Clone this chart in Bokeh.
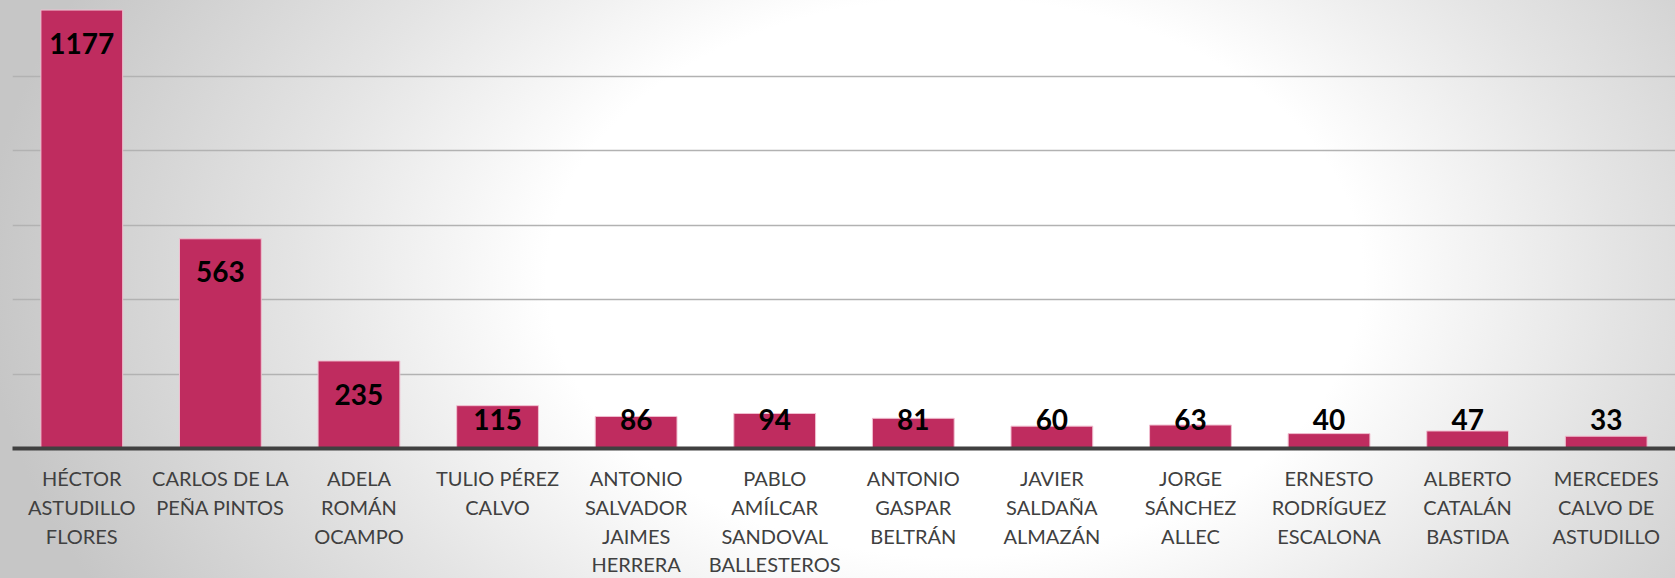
from bokeh.plotting import figure
from bokeh.models import (ColumnDataSource, FactorRange, FixedTicker, CategoricalAxis,
                          CustomJSTickFormatter)
from bokeh.core.properties import value
from bokeh.embed import file_html
from bokeh.resources import INLINE
import numpy as np

candidates = [
    "HÉCTOR ASTUDILLO FLORES",
    "CARLOS DE LA PEÑA PINTOS",
    "ADELA ROMÁN OCAMPO",
    "TULIO PÉREZ CALVO",
    "ANTONIO SALVADOR JAIMES HERRERA",
    "PABLO AMÍLCAR SANDOVAL BALLESTEROS",
    "ANTONIO GASPAR BELTRÁN",
    "JAVIER SALDAÑA ALMAZÁN",
    "JORGE SÁNCHEZ ALLEC",
    "ERNESTO RODRÍGUEZ ESCALONA",
    "ALBERTO CATALÁN BASTIDA",
    "MERCEDES CALVO DE ASTUDILLO",
]
label_lines = [
    ["HÉCTOR", "ASTUDILLO", "FLORES"],
    ["CARLOS DE LA", "PEÑA PINTOS"],
    ["ADELA", "ROMÁN", "OCAMPO"],
    ["TULIO PÉREZ", "CALVO"],
    ["ANTONIO", "SALVADOR", "JAIMES", "HERRERA"],
    ["PABLO", "AMÍLCAR", "SANDOVAL", "BALLESTEROS"],
    ["ANTONIO", "GASPAR", "BELTRÁN"],
    ["JAVIER", "SALDAÑA", "ALMAZÁN"],
    ["JORGE", "SÁNCHEZ", "ALLEC"],
    ["ERNESTO", "RODRÍGUEZ", "ESCALONA"],
    ["ALBERTO", "CATALÁN", "BASTIDA"],
    ["MERCEDES", "CALVO DE", "ASTUDILLO"],
]
votes = [1177, 563, 235, 115, 86, 94, 81, 60, 63, 40, 47, 33]
grid_ticks = [0, 200, 400, 600, 800, 1000, 1200]

vals = np.array(votes, dtype=float)
label_y = np.maximum(vals - 89, 78)

src = ColumnDataSource(dict(
    cat=candidates,
    v=votes,
    txt=[str(v) for v in votes],
    ly=label_y,
))

p = figure(
    x_range=FactorRange(factors=candidates, range_padding=0),
    y_range=(0, 1200),
    width=1675, height=578,
    output_backend="svg", toolbar_location=None,
    y_axis_location=None,
    min_border_left=12, min_border_right=0, min_border_top=1, min_border_bottom=0,
)
p.styles = {
    "background": "radial-gradient(ellipse 58% 115% at 57% 48%, #ffffff 0%, #ffffff 42%, #e4e4e4 68%, #c6c6c6 100%)"
}
p.border_fill_color = None
p.background_fill_color = None
p.outline_line_color = None

p.vbar(x="cat", top="v", width=0.59, source=src,
       fill_color="#BF2C5F", line_color="#f0bfd0", line_width=1)

p.text(x="cat", y="ly", text="txt", source=src,
       text_align="center", text_baseline="middle",
       text_font=value("Lato"), text_font_style="bold",
       text_font_size="28px", text_color="#000000")

p.xgrid.grid_line_color = None
p.ygrid.ticker = FixedTicker(ticks=grid_ticks)
p.ygrid.grid_line_color = "#b2b2b2"
p.ygrid.grid_line_width = 1.5


def style_axis(ax, line_idx, standoff):
    ax.major_tick_line_color = None
    ax.minor_tick_line_color = None
    ax.major_tick_out = 0
    ax.major_tick_in = 0
    ax.major_label_text_font = "Lato"
    ax.major_label_text_font_size = "20px"
    ax.major_label_text_color = "#404040"
    ax.major_label_standoff = standoff
    mapping = {c: (ll[line_idx] if line_idx < len(ll) else "")
               for c, ll in zip(candidates, label_lines)}
    ax.formatter = CustomJSTickFormatter(
        args=dict(m=mapping),
        code="const s = m.get ? m.get(tick) : m[tick]; return (s === undefined || s === null) ? '' : s;",
    )


ax0 = p.xaxis[0]
ax0.axis_line_color = "#404040"
ax0.axis_line_width = 4
style_axis(ax0, 0, 17)

for i, so in zip([1, 2, 3], [2, 2, 1]):
    ax = CategoricalAxis()
    ax.axis_line_color = None
    style_axis(ax, i, so)
    p.add_layout(ax, "below")

open("out.html", "w").write(file_html(p, INLINE))
